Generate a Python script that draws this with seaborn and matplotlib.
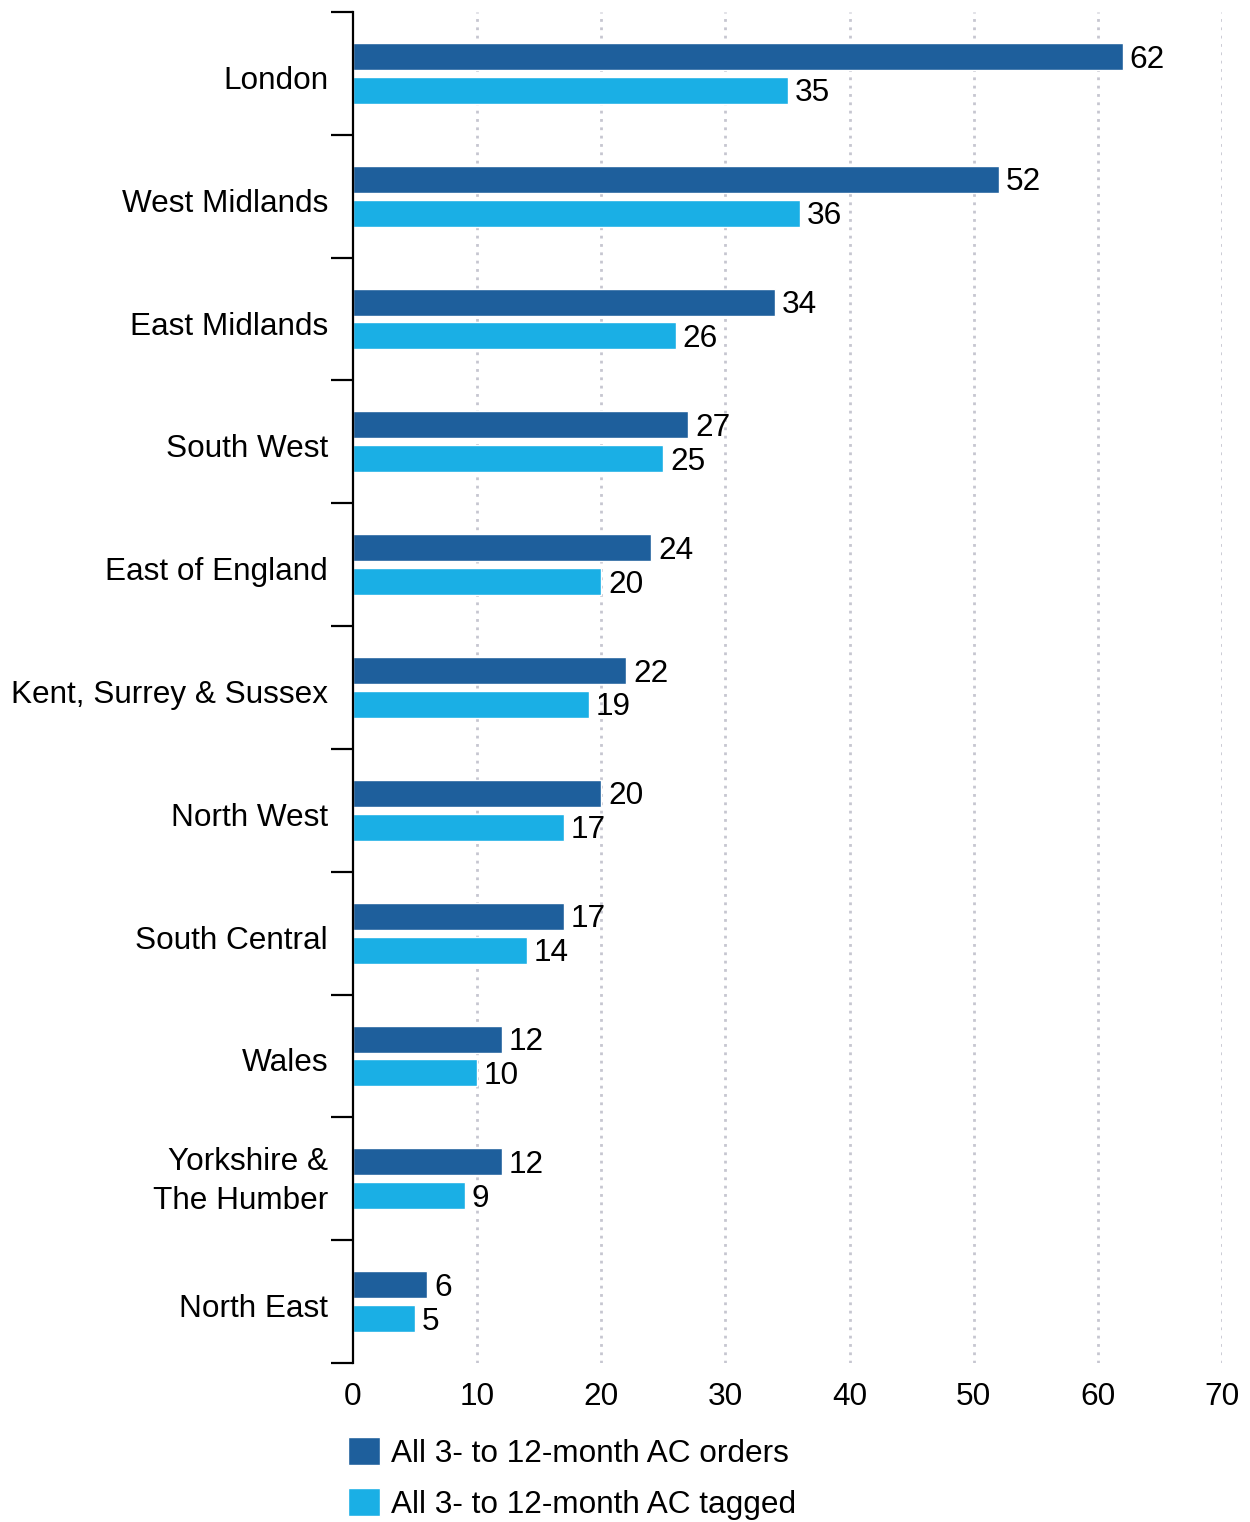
import matplotlib
matplotlib.use("Agg")
import matplotlib.pyplot as plt
import matplotlib.transforms as mtransforms
from matplotlib.ticker import FixedLocator
import pandas as pd
import seaborn as sns

regions = [
    "London", "West Midlands", "East Midlands", "South West", "East of England",
    "Kent, Surrey & Sussex", "North West", "South Central", "Wales",
    "Yorkshire &\nThe Humber", "North East",
]
orders = [62, 52, 34, 27, 24, 22, 20, 17, 12, 12, 6]
tagged = [35, 36, 26, 25, 20, 19, 17, 14, 10, 9, 5]
series_names = ["All 3- to 12-month AC orders", "All 3- to 12-month AC tagged"]
series_colors = ["#1E5F9C", "#1AAFE5"]
x_ticks = [0, 10, 20, 30, 40, 50, 60, 70]

df = pd.DataFrame({
    "region": regions * 2,
    "value": orders + tagged,
    "series": [series_names[0]] * len(regions) + [series_names[1]] * len(regions),
})

sns.set_style("white")
plt.rcParams["font.family"] = ["Liberation Sans", "DejaVu Sans"]
plt.rcParams["text.color"] = "black"
plt.rcParams["xtick.color"] = "black"
plt.rcParams["ytick.color"] = "black"
plt.rcParams["xtick.labelcolor"] = "black"
plt.rcParams["ytick.labelcolor"] = "black"
FS = 22.7

fig = plt.figure(figsize=(12.5, 15.22), dpi=100)
ax = fig.add_axes([0.2824, 0.10447, 0.9776 - 0.2824, 0.99212 - 0.10447])

sns.barplot(
    data=df, x="value", y="region", hue="series", orient="h",
    palette=series_colors, width=0.55, gap=0.2, saturation=1,
    order=regions, hue_order=series_names, ax=ax, legend=True,
)

down = lambda px: mtransforms.ScaledTranslation(0, -px / 100, fig.dpi_scale_trans)

for cont in ax.containers:
    for t in ax.bar_label(cont, fmt="%g", padding=5, fontsize=FS, color="black"):
        dx, dy = t.xyann
        t.xyann = (dx, dy - 2.2)

n = len(regions)
ax.set_xlim(0, 70)
ax.set_ylim(n - 0.5, -0.5)
ax.set_xlabel("")
ax.set_ylabel("")

# x axis: labels only, dotted vertical grid
ax.set_xticks(x_ticks)
ax.set_xticklabels([str(t) for t in x_ticks], fontsize=FS, color="black")
ax.tick_params(axis="x", length=0, pad=14)
for t in x_ticks[1:]:
    ax.axvline(t, color="#C6C6D0", linestyle=(0, (1, 2)), linewidth=2.0, zorder=0)

# y axis: boundary ticks (major), labels at category centres (minor)
ax.yaxis.set_major_locator(FixedLocator([i - 0.5 for i in range(n + 1)]))
ax.yaxis.set_minor_locator(FixedLocator(list(range(n))))
ax.set_yticklabels([""] * (n + 1))
ax.set_yticklabels(regions, minor=True, fontsize=FS, linespacing=1.4, color="black")
ax.tick_params(axis="y", which="major", length=16, width=1.6, color="black", direction="out", left=True)
ax.tick_params(axis="y", which="minor", length=0, pad=18, left=True)
for lbl in ax.get_yticklabels(minor=True):
    shift = 4 if "\n" not in lbl.get_text() else -5
    lbl.set_transform(lbl.get_transform() + down(shift))

for side in ["top", "right", "bottom"]:
    ax.spines[side].set_visible(False)
ax.spines["left"].set_color("black")
ax.spines["left"].set_linewidth(1.6)

handles, labels = ax.get_legend_handles_labels()
leg = ax.legend(
    handles, labels, loc="upper left", bbox_to_anchor=(348 / 1250, 1 - 1437 / 1522),
    bbox_transform=fig.transFigure, frameon=False, fontsize=FS,
    handlelength=1.0, handleheight=1.0, handletextpad=0.35, labelspacing=0.6,
    borderpad=0, borderaxespad=0,
)
for t in leg.get_texts():
    t.set_color("black")

fig.savefig("out.png", dpi=100)
